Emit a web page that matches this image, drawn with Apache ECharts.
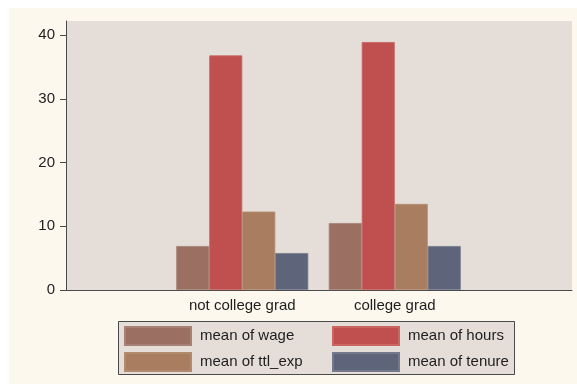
<!DOCTYPE html>
<html>
<head>
<meta charset="utf-8">
<script src="https://cdn.jsdelivr.net/npm/echarts@6/dist/echarts.min.js"></script>
<style>
  html, body { margin: 0; padding: 0; background: #ffffff; }
  #chart { width: 577px; height: 386px; }
</style>
</head>
<body>
<div id="chart"></div>
<script>
// data
const groups = ['not college grad', 'college grad'];
const wage = [6.9, 10.5];
const hours = [36.8, 38.9];
const ttlExp = [12.3, 13.5];
const tenure = [5.8, 6.9];
const yTicks = [0, 10, 20, 30, 40];

const seriesNames = ['mean of wage', 'mean of hours', 'mean of ttl_exp', 'mean of tenure'];
const seriesData = [wage, hours, ttlExp, tenure];
const colors = ['#9c6f63', '#bf504f', '#a97d5f', '#5e6479'];
const edges = ['#a88176', '#c8665f', '#b28a6d', '#747a8c'];

const FONT = '"Liberation Sans", Arial, sans-serif';
const INK = '#1e1e1e';
const AXIS = '#4a4a4a';
const PLOT_BG = '#e4ddd8';

const chart = echarts.init(document.getElementById('chart'));

const yAxisBase = {
  type: 'value',
  min: 0,
  max: 42.2,
  interval: 10,
  splitLine: { show: false }
};

const legendBase = {
  orient: 'vertical',
  top: 326,
  padding: 0,
  itemGap: 6,
  itemWidth: 66,
  itemHeight: 18,
  icon: 'rect',
  textStyle: { color: INK, fontSize: 15, fontFamily: FONT, padding: [0, 0, 0, 4] }
};

chart.setOption({
  animation: false,
  textStyle: { fontFamily: FONT },
  graphic: [
    {
      type: 'rect',
      z: -10,
      shape: { x: 9, y: 8, width: 568, height: 376 },
      style: { fill: '#fcf8ee' }
    },
    {
      type: 'rect',
      z: 1,
      shape: { x: 118.5, y: 321.5, width: 396, height: 53 },
      style: { fill: PLOT_BG, stroke: AXIS, lineWidth: 1 }
    }
  ],
  grid: [
    { left: 66, right: 5, top: 21, bottom: 96, show: true, backgroundColor: PLOT_BG, borderWidth: 0 },
    { left: 166, right: 106, top: 21, bottom: 96 }
  ],
  xAxis: [
    {
      type: 'category',
      gridIndex: 0,
      data: [''],
      axisLine: { lineStyle: { color: AXIS, width: 1 } },
      axisTick: { show: false },
      axisLabel: { show: false }
    },
    {
      type: 'category',
      gridIndex: 1,
      data: groups,
      axisLine: { show: false },
      axisTick: { show: false },
      axisLabel: { color: INK, fontSize: 15, margin: 8, fontFamily: FONT }
    }
  ],
  yAxis: [
    Object.assign({}, yAxisBase, {
      gridIndex: 0,
      axisLine: { show: true, lineStyle: { color: AXIS, width: 1 } },
      axisTick: { show: true, length: 6, lineStyle: { color: AXIS }, customValues: yTicks },
      axisLabel: { color: INK, fontSize: 15, margin: 11, fontFamily: FONT, customValues: yTicks }
    }),
    Object.assign({}, yAxisBase, {
      gridIndex: 1,
      show: false
    })
  ],
  legend: [
    Object.assign({}, legendBase, { data: [seriesNames[0], seriesNames[2]], left: 124 }),
    Object.assign({}, legendBase, { data: [seriesNames[1], seriesNames[3]], left: 332 })
  ],
  series: seriesNames.map((name, i) => ({
    name: name,
    type: 'bar',
    xAxisIndex: 1,
    yAxisIndex: 1,
    data: seriesData[i],
    barWidth: 33,
    barGap: '0%',
    itemStyle: { color: colors[i], borderColor: edges[i], borderWidth: 0.8 }
  }))
});
</script>
</body>
</html>
